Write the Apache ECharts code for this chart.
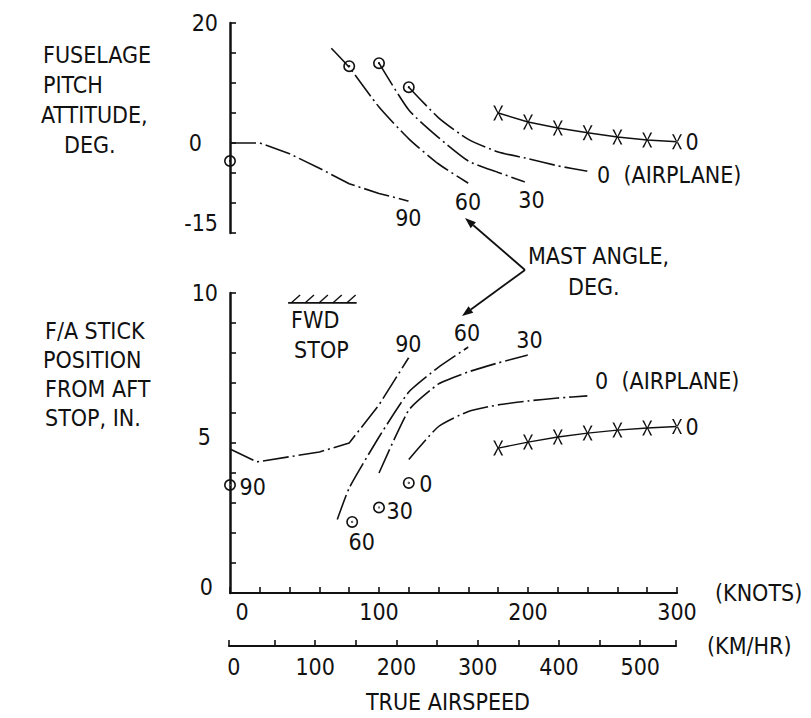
<!DOCTYPE html>
<html><head><meta charset="utf-8">
<script src="https://cdn.jsdelivr.net/npm/echarts@6/dist/echarts.min.js"></script>
<style>html,body{margin:0;padding:0;background:#fff}#c{width:811px;height:718px}</style>
</head><body><div id="c"></div>
<script>
// ---------- data ----------
// x = true airspeed, knots
const knotsLabels = [0, 100, 200, 300];
const kmhLabels = [0, 100, 200, 300, 400, 500];
const kmhTicks = [-6, 50, 100, 150, 200, 250, 300, 350, 400, 450, 500, 544];
const kmhRange = [-6, 544];
const pitchLabels = [20, 0, -15];
const stickLabels = [10, 5, 0];

// top panel: fuselage pitch attitude, deg  [knots, deg]
const pitch90 = [[0,0],[20,0],[40,-1.8],[60,-4.2],[80,-6.8],[100,-8.4],[120,-9.7]];
const pitch60 = [[68,15.8],[80,12.6],[100,6.0],[120,0.7],[140,-3.5],[160,-6.7]];
const pitch30 = [[100,13.3],[120,5.5],[140,0.9],[160,-3.0],[180,-4.9],[198,-6.5]];
const pitch0  = [[120,9.3],[140,4.2],[160,0.6],[180,-1.5],[200,-2.6],[220,-3.8],[240,-4.7]];
const pitchX  = [[180,5.0],[200,3.5],[220,2.5],[240,1.7],[260,1.0],[280,0.5],[300,0.2]];
const pitchCircles = [[0,-3.0],[80,12.8],[100,13.3],[120,9.3]];

// bottom panel: F/A stick position from aft stop, in.  [knots, in]
const stick90 = [[0,4.8],[18,4.37],[60,4.7],[80,5.0],[100,6.27],[120,7.85]];
const stick60 = [[72,2.45],[80,3.5],[100,5.2],[120,6.7],[140,7.53],[160,8.2]];
const stick30 = [[100,4.0],[120,6.1],[140,6.97],[160,7.37],[180,7.67],[200,7.93]];
const stick0  = [[120,4.45],[140,5.55],[160,6.05],[180,6.27],[200,6.4],[220,6.5],[240,6.57]];
const stickX  = [[180,4.83],[200,5.03],[220,5.2],[240,5.33],[260,5.43],[280,5.5],[300,5.55]];
const stickCircles = [[0,3.6],[82,2.37],[100,2.85],[120,3.67]];
const stickCircleNames = ['90','60','30','0'];
const fwdStop = [[39,9.67],[85,9.67]];

// ---------- styling ----------
const F = '"Liberation Sans Narrow","DejaVu Sans Condensed","Arial Narrow",sans-serif';
const INK = '#111';
const FS = 23;
const dashDot = [26,4,2,4];
const X_PATH = 'path://M0,0L1.8,0L5,6.2L8.2,0L10,0L5.9,7L10,14L8.2,14L5,7.8L1.8,14L0,14L4.1,7Z';
const RING_PATH = 'path://M0,11A11,11,0,1,1,22,11A11,11,0,1,1,0,11ZM3,11A8,8,0,1,0,19,11A8,8,0,1,0,3,11ZM9,11A2,2,0,1,1,13,11A2,2,0,1,1,9,11Z';
const txt = {fontFamily:F, fontSize:FS, color:INK};

function curve(data, g, dashed, smooth) {
  return {type:'line', xAxisIndex:g, yAxisIndex:g, data, symbol:'none', smooth: smooth||0,
    lineStyle:{color:INK, width:1.6, type: dashed ? dashDot : 'solid'}, silent:true, z:3};
}
function xCurve(data, g) {
  return {type:'line', xAxisIndex:g, yAxisIndex:g, data, symbol:X_PATH, symbolSize:[10,15], showSymbol:true,
    itemStyle:{color:INK, opacity:1}, lineStyle:{color:INK, width:1.4}, silent:true, z:4};
}
function circles(data, g) {
  return {type:'scatter', xAxisIndex:g, yAxisIndex:g, data, symbol:RING_PATH, symbolSize:12,
    itemStyle:{color:INK, opacity:1}, silent:true, clip:false, z:5};
}
function labels(g, items) {
  return {type:'scatter', xAxisIndex:g, yAxisIndex:g, symbolSize:1, itemStyle:{color:'#fff', opacity:1},
    silent:true, clip:false, z:6,
    data: items.map(it => ({value: it.at, label:{show:true, position:[0,0], formatter: it.text,
      align: it.align || 'center', verticalAlign:'middle', offset: it.off, opacity:1, ...txt}}))};
}
const last = a => a[a.length-1];

const topLabels = labels(0, [
  {at:last(pitch90), text:'90', off:[0,17]},
  {at:last(pitch60), text:'60', off:[0,19]},
  {at:last(pitch30), text:'30', off:[7,18]},
  {at:last(pitch0), text:'0  (AIRPLANE)', align:'left', off:[10,4]},
  {at:last(pitchX), text:'0', align:'left', off:[9,1]}
]);
const botLabels = labels(1, [
  {at:last(stick90), text:'90', off:[0,-13]},
  {at:last(stick60), text:'60', off:[-1,-14]},
  {at:last(stick30), text:'30', off:[2,-15]},
  {at:last(stick0), text:'0  (AIRPLANE)', align:'left', off:[8,-14]},
  {at:last(stickX), text:'0', align:'left', off:[9,1]},
  {at:stickCircles[0], text:stickCircleNames[0], align:'left', off:[10,2]},
  {at:stickCircles[1], text:stickCircleNames[1], off:[10,21]},
  {at:stickCircles[2], text:stickCircleNames[2], align:'left', off:[8,4]},
  {at:stickCircles[3], text:stickCircleNames[3], align:'left', off:[11,2]}
]);

const fwdSeries = {type:'custom', xAxisIndex:1, yAxisIndex:1, silent:true, clip:false, z:4,
  data:[[fwdStop[0][0], fwdStop[1][0], fwdStop[0][1]]],
  renderItem(params, api) {
    const p1 = api.coord([api.value(0), api.value(2)]);
    const p2 = api.coord([api.value(1), api.value(2)]);
    const ch = [{type:'line', shape:{x1:p1[0], y1:p1[1], x2:p2[0], y2:p2[1]}, style:{stroke:INK, lineWidth:1.8}}];
    const n = 5, span = (p2[0] - p1[0]) - 13;
    for (let i = 0; i < n; i++) {
      const x = p1[0] + 3 + i * span / (n - 1);
      ch.push({type:'line', shape:{x1:x, y1:p1[1], x2:x + 9, y2:p1[1] - 8}, style:{stroke:INK, lineWidth:1.4}});
    }
    ch.push({type:'text', x:p1[0] + 3, y:p1[1] + 17, style:{text:'FWD', font: FS + 'px ' + F, fill:INK, verticalAlign:'middle'}});
    ch.push({type:'text', x:p1[0] + 6, y:p1[1] + 47, style:{text:'STOP', font: FS + 'px ' + F, fill:INK, verticalAlign:'middle'}});
    return {type:'group', children: ch};
  }
};

const axisLineStyle = {color:INK, width:2.2};
const tickStyle = {color:INK, width:1.6};

const option = {
  animation:false,
  backgroundColor:'#fff',
  grid:[
    {left:230, top:23, width:447, height:210},
    {left:230, top:293, width:447, height:300},
    {left:229, top:645, width:447, height:1}
  ],
  xAxis:[
    {gridIndex:0, type:'value', min:0, max:300, show:false},
    {gridIndex:1, type:'value', min:0, max:300, interval:20,
      axisLine:{show:true, onZero:false, lineStyle:axisLineStyle},
      axisTick:{show:true, inside:true, length:6, lineStyle:tickStyle},
      splitLine:{show:false},
      axisLabel:{margin:7, ...txt,
        formatter: v => knotsLabels.includes(v) ? (v === 0 ? '{z|0}' : String(v)) : '',
        rich:{z:{padding:[0,0,0,24], ...txt}}},
      name:'(KNOTS)', nameLocation:'end', nameGap:38, nameTextStyle:{...txt}},
    {gridIndex:2, type:'value', min:kmhRange[0], max:kmhRange[1],
      axisLine:{show:true, onZero:false, lineStyle:axisLineStyle},
      axisTick:{show:true, inside:true, length:6, customValues:kmhTicks, lineStyle:tickStyle},
      splitLine:{show:false},
      axisLabel:{margin:9, customValues:kmhLabels, ...txt},
      name:'(KM/HR)', nameLocation:'end', nameGap:31, nameTextStyle:{...txt}}
  ],
  yAxis:[
    {gridIndex:0, type:'value', min:-15, max:20, interval:5,
      axisLine:{show:true, onZero:false, lineStyle:{color:INK, width:2.5}},
      axisTick:{show:true, inside:true, length:6, lineStyle:tickStyle},
      splitLine:{show:false},
      axisLabel:{margin:12, ...txt,
        formatter: v => !pitchLabels.includes(v) ? '' : v === 0 ? '{z|0}' : v === -15 ? '{m|-15}' : String(v),
        rich:{z:{padding:[0,16,0,0], ...txt}, m:{padding:[0,0,20,0], ...txt}}}},
    {gridIndex:1, type:'value', min:0, max:10, interval:1,
      axisLine:{show:true, onZero:false, lineStyle:{color:INK, width:2.5}},
      axisTick:{show:true, inside:true, length:6, lineStyle:tickStyle},
      splitLine:{show:false},
      axisLabel:{margin:12, ...txt,
        formatter: v => !stickLabels.includes(v) ? '' : v === 5 ? '{a|5}' : v === 0 ? '{b|0}' : String(v),
        rich:{a:{padding:[0,7,12,0], ...txt}, b:{padding:[0,5,12,0], ...txt}}}},
    {gridIndex:2, type:'value', min:0, max:1, show:false}
  ],
  series:[
    curve(pitch90, 0, true, 0),
    curve(pitch60, 0, true, 0.2),
    curve(pitch30, 0, true, 0.2),
    curve(pitch0, 0, true, 0.2),
    xCurve(pitchX, 0),
    circles(pitchCircles, 0),
    topLabels,
    curve(stick90, 1, true, 0),
    curve(stick60, 1, true, 0.15),
    curve(stick30, 1, true, 0.15),
    curve(stick0, 1, true, 0.2),
    xCurve(stickX, 1),
    circles(stickCircles, 1),
    botLabels,
    fwdSeries
  ]
};

// free text and annotation arrows
function t(text, x, y, align) {
  return {type:'text', x, y, silent:true, style:{text, font: FS + 'px ' + F, fill:INK, align: align || 'left', verticalAlign:'middle'}};
}
function arrow(x1, y1, x2, y2) {
  const a = Math.atan2(y2 - y1, x2 - x1), L = 11, W = 4;
  const bx = x2 - L * Math.cos(a), by = y2 - L * Math.sin(a);
  return [
    {type:'line', silent:true, shape:{x1, y1, x2:bx, y2:by}, style:{stroke:INK, lineWidth:1.8}},
    {type:'polygon', silent:true, shape:{points:[[x2, y2], [bx + W * Math.sin(a), by - W * Math.cos(a)], [bx - W * Math.sin(a), by + W * Math.cos(a)]]}, style:{fill:INK}}
  ];
}
option.graphic = [
  t('FUSELAGE', 43, 55), t('PITCH', 43, 85), t('ATTITUDE,', 41, 115), t('DEG.', 64, 145),
  t('F/A STICK', 45, 331), t('POSITION', 43, 360), t('FROM AFT', 45, 389), t('STOP, IN.', 45, 418),
  t('MAST ANGLE,', 528, 256), t('DEG.', 568, 287),
  t('TRUE AIRSPEED', 448, 702, 'center'),
  ...arrow(525, 270, 465, 218),
  ...arrow(525, 270, 462, 316)
];

const chart = echarts.init(document.getElementById('c'), null, {renderer:'svg'});
chart.setOption(option);
</script></body></html>
